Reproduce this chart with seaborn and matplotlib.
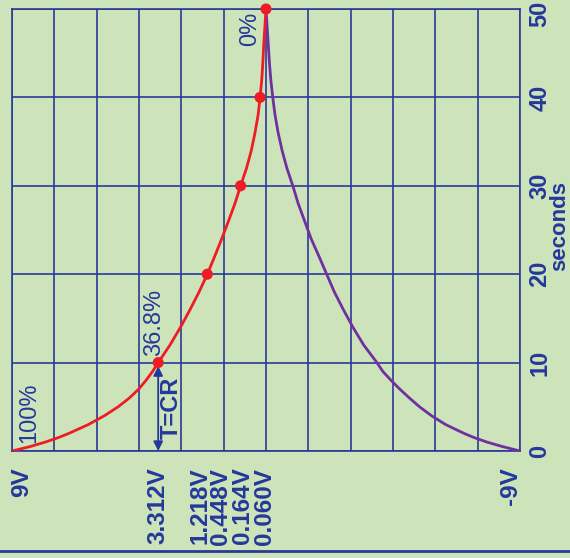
import matplotlib
matplotlib.use("Agg")
import matplotlib.pyplot as plt
from matplotlib.lines import Line2D
from matplotlib.transforms import ScaledTranslation
import pandas as pd
import seaborn as sns

# ---------------- data ----------------
# red discharge curve: time in seconds, displayed voltage position
red_t = [0, 0.5, 1, 1.5, 2, 3, 4, 5, 6, 7, 8, 9, 10, 12, 14, 16, 18, 20, 22, 24,
         26, 28, 30, 32, 34, 36, 38, 40, 42, 44, 46, 48, 50]
red_v = [9.0, 8.36, 7.83, 7.37, 6.98, 6.29, 5.72, 5.24, 4.84, 4.51, 4.25, 4.02, 3.82,
         3.40, 3.03, 2.69, 2.37, 2.08, 1.82, 1.57, 1.33, 1.10, 0.90, 0.69, 0.52, 0.39,
         0.28, 0.21, 0.15, 0.11, 0.08, 0.04, 0.0]

# purple curve
purple_t = [0, 0.5, 1, 1.5, 2, 3, 4, 5, 6, 7, 8, 9, 10, 12, 14, 16, 18, 20, 22, 24,
            26, 28, 30, 32, 34, 36, 38, 40, 42, 44, 46, 48, 50]
purple_v = [-9.0, -8.38, -7.84, -7.39, -7.01, -6.36, -5.86, -5.44, -5.08, -4.74, -4.43,
            -4.14, -3.93, -3.46, -3.08, -2.74, -2.42, -2.15, -1.88, -1.60, -1.37, -1.14,
            -0.95, -0.74, -0.57, -0.43, -0.32, -0.24, -0.17, -0.12, -0.08, -0.04, 0.0]

# red dots (every time constant)
dot_t = [10, 20, 30, 40, 50]
dot_v = [3.82, 2.08, 0.90, 0.21, 0.0]

# voltage axis labels and their positions
volt_labels = ["9V", "3.312V", "1.218V", "0.448V", "0.164V", "0.060V", "-9V"]
volt_label_pos = [8.66, 3.84, 2.35, 1.61, 0.85, 0.05, -8.65]
volt_grid = [9 - 1.5 * k for k in range(13)]

seconds_ticks = [0, 10, 20, 30, 40, 50]

# ---------------- style ----------------
BG = "#cde4bb"
BLUE = "#24389a"
GRID = "#2b3a96"
RED = "#ee1c25"
PURPLE = "#7030a0"

sns.set_style("white", {"axes.facecolor": BG, "figure.facecolor": BG})
plt.rcParams["font.family"] = ["Liberation Sans", "DejaVu Sans"]

fig = plt.figure(figsize=(5.7, 5.58), dpi=100)
fig.patch.set_facecolor(BG)
ax = fig.add_axes([12 / 570, 1 - 451 / 558, (520 - 12) / 570, (451 - 9) / 558])
ax.set_facecolor(BG)

red_df = pd.DataFrame({"volts": red_v, "seconds": red_t})
purple_df = pd.DataFrame({"volts": purple_v, "seconds": purple_t})
dot_df = pd.DataFrame({"volts": dot_v, "seconds": dot_t})

sns.lineplot(data=purple_df, x="volts", y="seconds", sort=False, estimator=None,
             color=PURPLE, lw=2.0, ax=ax, zorder=3)
sns.lineplot(data=red_df, x="volts", y="seconds", sort=False, estimator=None,
             color=RED, lw=2.0, ax=ax, zorder=4)
sns.scatterplot(data=dot_df, x="volts", y="seconds", color=RED, s=64,
                edgecolor="none", ax=ax, zorder=5, clip_on=False)

ax.set_xlim(9, -9)
ax.set_ylim(0, 50)

# grid
ax.set_xticks(volt_grid, minor=True)
ax.set_xticks(volt_label_pos)
ax.set_xticklabels(volt_labels, rotation=90, fontsize=17.5, fontweight="bold",
                   color=BLUE, va="top", ha="center")
ax.set_yticks(seconds_ticks)
ax.yaxis.tick_right()
ax.set_yticklabels([str(s) for s in seconds_ticks], rotation=90, fontsize=17,
                   fontweight="bold", color=BLUE, va="center", ha="left")
ax.tick_params(axis="x", which="both", length=0, pad=12)
ax.tick_params(axis="y", which="both", length=0, pad=6)
ax.grid(False)
ax.xaxis.grid(True, which="minor", color=GRID, lw=1.2)
ax.yaxis.grid(True, which="major", color=GRID, lw=1.2)
ax.set_axisbelow(True)
for sp in ax.spines.values():
    sp.set_color(GRID)
    sp.set_linewidth(1.2)
    sp.set_visible(True)

# nudge the top "50" label down a little so it stays inside the figure
top_label = ax.get_yticklabels()[-1]
top_label.set_transform(top_label.get_transform() + ScaledTranslation(0, -5 / 100, fig.dpi_scale_trans))

ax.set_xlabel("")
ax.set_ylabel("")
# axis title on the right, baseline near the right edge
fig.text(565 / 570, 1 - 226 / 558, "seconds", rotation=90, rotation_mode="anchor",
         ha="center", va="baseline", fontsize=16, fontweight="bold", color=BLUE)

# annotations
ax.text(0.567, 47.7, "0%", rotation=90, fontsize=17, color=BLUE, ha="center", va="center")
ax.text(8.40, 4.3, "100%", rotation=90, fontsize=17, color=BLUE, ha="center", va="center")
ax.text(3.95, 14.5, "36.8%", rotation=90, fontsize=17, color=BLUE, ha="center", va="center")
ax.text(3.35, 4.86, "T=CR", rotation=90, fontsize=17, fontweight="bold", color=BLUE,
        ha="center", va="center")
ax.annotate("", xy=(dot_v[0], 9.6), xytext=(dot_v[0], 0),
            arrowprops=dict(arrowstyle="<|-|>", color=BLUE, lw=1.3,
                            mutation_scale=14, shrinkA=0, shrinkB=0), zorder=4)

# bottom rule
fig.add_artist(Line2D([0, 1], [1 - 551 / 558, 1 - 551 / 558], color=GRID, lw=2,
                      transform=fig.transFigure))

fig.savefig("out.png", dpi=100, facecolor=BG)
